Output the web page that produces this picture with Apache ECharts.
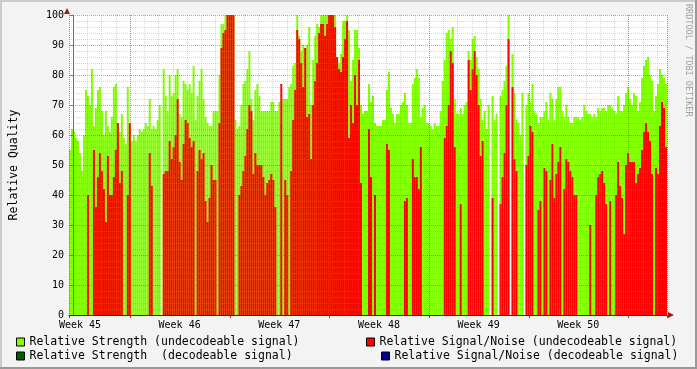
<!DOCTYPE html>
<html><head><meta charset="utf-8">
<script src="https://cdn.jsdelivr.net/npm/echarts@6/dist/echarts.min.js"></script>
<style>html,body{margin:0;padding:0;background:#f3f3f3}#c{width:697px;height:369px}</style>
</head><body><div id="c"></div><script>
// Week labels shown on the time axis
const weekLabels = ['Week 45', 'Week 46', 'Week 47', 'Week 48', 'Week 49', 'Week 50'];

// Relative Strength (undecodeable signal), one value per sample
const strengthUndecodeable = [
55,62,61,59,58,54,48,60,75,73, 70,82,63,69,75,76,68,60,68,63, 61,66,76,77,64,61,67,59,57,76,
62,58,60,58,60,62,61,62,64,63, 72,62,63,62,65,70,0,82,73,68, 80,73,
74,80,82,67,66,78,77,75,77,74, 83,65,73,78,82,72,66,64,63,63, 68,68,68,80,97,97,100,100,100,100,
100,65,62,63,70,77,78,82,88,72, 65,75,77,73,68,68,68,68,
68,71,71,68,68,71,64,72,72,72, 76,77,83,84,100,93,88,90,89,90, 96,70,85,93,97,96,100,100,100,100,
100,100,100,100,86,84,87,98,98,100, 95,78,85,95,95,89,70,67,68,68, 77,
71,73,64,63,63,63,65,65,75,81, 69,67,64,67,67,70,71,74,70,64, 64,77,79,82,79,66,69,70,64,64,
63,62,64,63,63,68,78,85,94,95, 92,96,72,67,67,69,67,70,71,88,
85,92,93,86,82,72,65,68,62,70, 0,73,65,67,0,73,75,78,83,100, 0,87,74,65,64,60,74,0,70,74,
71,77,68,67,64,66,66,68,71,65, 74,72,65,72,76,76,68,66,
70,66,64,64,66,66,66,65,66,70, 68,67,67,66,67,66,69,68,69,69, 68,70,70,69,68,67,73,68,68,70,
74,76,72,70,74,73,68,71,79,83, 85,86,80,78,68,73,77,82,80,79, 77
];

// Relative Signal/Noise (undecodeable signal), one value per sample
const snrUndecodeable = [
0,0,0,0,0,0,0,0,0,40, 0,0,55,36,46,54,48,42,31,53, 40,40,46,55,64,44,48,0,0,40,
64,0,0,0,0,0,0,0,0,0, 54,43,0,0,0,0,0,47,48,48, 58,52,
56,60,72,51,45,57,65,64,59,56, 58,0,48,55,52,54,38,31,39,50, 45,45,0,64,89,94,95,100,100,100,
100,0,0,40,43,48,53,62,70,68, 47,54,50,50,50,46,40,44,
45,47,45,36,0,0,77,0,45,40, 0,48,65,75,95,92,84,76,89,66, 67,52,70,78,84,94,97,97,93,97,
100,100,100,96,86,82,81,86,92,98, 59,70,64,80,70,85,44,0,0,0, 62,
46,0,40,0,0,0,0,0,57,55, 0,0,0,0,0,0,0,38,39,0, 0,52,46,46,42,56,0,0,0,0,
0,0,0,0,0,0,0,59,63,70, 88,84,56,0,0,37,0,0,0,85,
75,82,88,80,70,53,58,0,0,0, 0,39,0,0,0,37,46,54,70,92, 0,76,52,48,0,0,0,0,50,53,
63,61,0,0,35,38,0,49,48,0, 45,57,39,47,51,56,0,42,
52,51,48,46,40,40,0,0,0,0, 0,0,30,0,0,40,46,47,48,44, 37,0,38,0,0,40,51,43,39,27,
50,54,51,51,51,44,47,49,55,61, 64,61,58,47,0,49,47,63,71,69, 56
];

// Decodeable signal series (no visible values in this period)
const strengthDecodeable = [];
const snrDecodeable = [];

// Sample index categories
const samples = strengthUndecodeable.map((_, i) => i);

const FONT = 'DejaVu Sans Mono';
const names = [
  'Relative Strength (undecodeable signal)',
  'Relative Signal/Noise (undecodeable signal)',
  'Relative Strength  (decodeable signal)',
  'Relative Signal/Noise (decodeable signal)'
];
const colors = ['#80FF00', '#FF0000', '#006000', '#000090'];

const minorGrid = { color: 'rgba(140,140,140,0.35)', width: 1, type: [1, 1] };
const majorGrid = { color: 'rgba(190,40,40,0.5)', width: 1, type: [1, 1] };

function legendAt(idx, left, top) {
  return {
    data: [names[idx]], left: left, top: top, padding: 0, orient: 'horizontal',
    icon: 'rect', itemWidth: 8, itemHeight: 8, itemGap: 5,
    itemStyle: { borderColor: '#000', borderWidth: 1 },
    textStyle: { fontFamily: FONT, fontSize: 11.5, color: '#000' },
    selectedMode: false
  };
}

const chart = echarts.init(document.getElementById('c'), null, { renderer: 'canvas' });
chart.setOption({
  animation: false,
  backgroundColor: '#f3f3f3',
  grid: { left: 67, right: 30, top: 15, bottom: 54, show: true, backgroundColor: '#ffffff', borderWidth: 0 },
  legend: [legendAt(0, 16, 336), legendAt(1, 366, 336), legendAt(2, 16, 350), legendAt(3, 381, 350)],
  xAxis: [
    { // data axis
      type: 'category', data: samples, boundaryGap: true, position: 'bottom',
      axisLine: { show: true, onZero: false, lineStyle: { color: '#2a3040', width: 1 } },
      axisTick: { show: false }, axisLabel: { show: false }, splitLine: { show: false }, z: 6
    },
    { // day grid
      type: 'value', min: -0.3, max: 41.7, minInterval: 1, maxInterval: 1, splitNumber: 42, position: 'bottom',
      axisLine: { show: false }, axisTick: { show: false }, axisLabel: { show: false },
      splitLine: { show: true, lineStyle: minorGrid }, z: 5
    },
    { // week grid
      type: 'value', min: -4.3, max: 37.7, minInterval: 7, maxInterval: 7, splitNumber: 6, position: 'bottom',
      axisLine: { show: false }, axisTick: { show: true, length: 3, lineStyle: { color: '#b03030' } },
      axisLabel: { show: false },
      splitLine: { show: true, lineStyle: majorGrid }, z: 5
    },
    { // week labels
      type: 'value', min: -0.77, max: 41.23, minInterval: 7, maxInterval: 7, splitNumber: 6, position: 'bottom',
      axisLine: { show: false }, axisTick: { show: false }, splitLine: { show: false },
      axisLabel: {
        show: true, margin: 5, fontFamily: FONT, fontSize: 10, color: '#000',
        showMinLabel: true, showMaxLabel: true,
        formatter: function (v) {
          const k = Math.round(v / 7);
          return (Math.abs(v - 7 * k) < 1e-6 && weekLabels[k]) ? weekLabels[k] : '';
        }
      }
    }
  ],
  yAxis: {
    type: 'value', min: 0, max: 100, interval: 10, z: 5,
    name: 'Relative Quality', nameLocation: 'middle', nameGap: 49,
    nameTextStyle: { fontFamily: FONT, fontSize: 11.5, color: '#000' },
    axisLine: { show: true, lineStyle: { color: '#707070' } },
    axisTick: { show: true, length: 3, lineStyle: { color: '#707070' } },
    axisLabel: { fontFamily: FONT, fontSize: 10, color: '#000', margin: 5 },
    splitLine: { show: true, lineStyle: majorGrid },
    minorTick: { show: false, splitNumber: 5 },
    minorSplitLine: { show: true, lineStyle: minorGrid }
  },
  series: [
    { name: names[0], type: 'bar', xAxisIndex: 0, data: strengthUndecodeable, barWidth: '100%', barGap: '-100%', itemStyle: { color: colors[0] }, z: 2 },
    { name: names[1], type: 'bar', xAxisIndex: 0, data: snrUndecodeable, barWidth: '100%', barGap: '-100%', itemStyle: { color: colors[1] }, z: 3 },
    { name: names[2], type: 'bar', xAxisIndex: 0, data: strengthDecodeable, barWidth: '100%', barGap: '-100%', itemStyle: { color: colors[2] }, z: 4 },
    { name: names[3], type: 'bar', xAxisIndex: 0, data: snrDecodeable, barWidth: '100%', barGap: '-100%', itemStyle: { color: colors[3] }, z: 4 }
  ],
  graphic: [
    { type: 'rect', shape: { x: 0, y: 0, width: 697, height: 2 }, style: { fill: '#cbcbcb' }, silent: true },
    { type: 'rect', shape: { x: 0, y: 0, width: 2, height: 369 }, style: { fill: '#cbcbcb' }, silent: true },
    { type: 'rect', shape: { x: 0, y: 367, width: 697, height: 2 }, style: { fill: '#999999' }, silent: true },
    { type: 'rect', shape: { x: 695, y: 0, width: 2, height: 369 }, style: { fill: '#999999' }, silent: true },
    { type: 'polygon', shape: { points: [[64, 14], [70, 14], [67, 8]] }, style: { fill: '#9b1b1b' }, z: 10, silent: true },
    { type: 'polygon', shape: { points: [[668, 312], [668, 318], [674, 315]] }, style: { fill: '#9b1b1b' }, z: 10, silent: true },
    { type: 'text', x: 688, y: 4, rotation: -Math.PI / 2,
      style: { text: 'RRDTOOL / TOBI OETIKER', fontFamily: FONT, fontSize: 8.5, fill: '#a0a0a0', align: 'left', verticalAlign: 'middle' },
      silent: true }
  ]
});
</script></body></html>
